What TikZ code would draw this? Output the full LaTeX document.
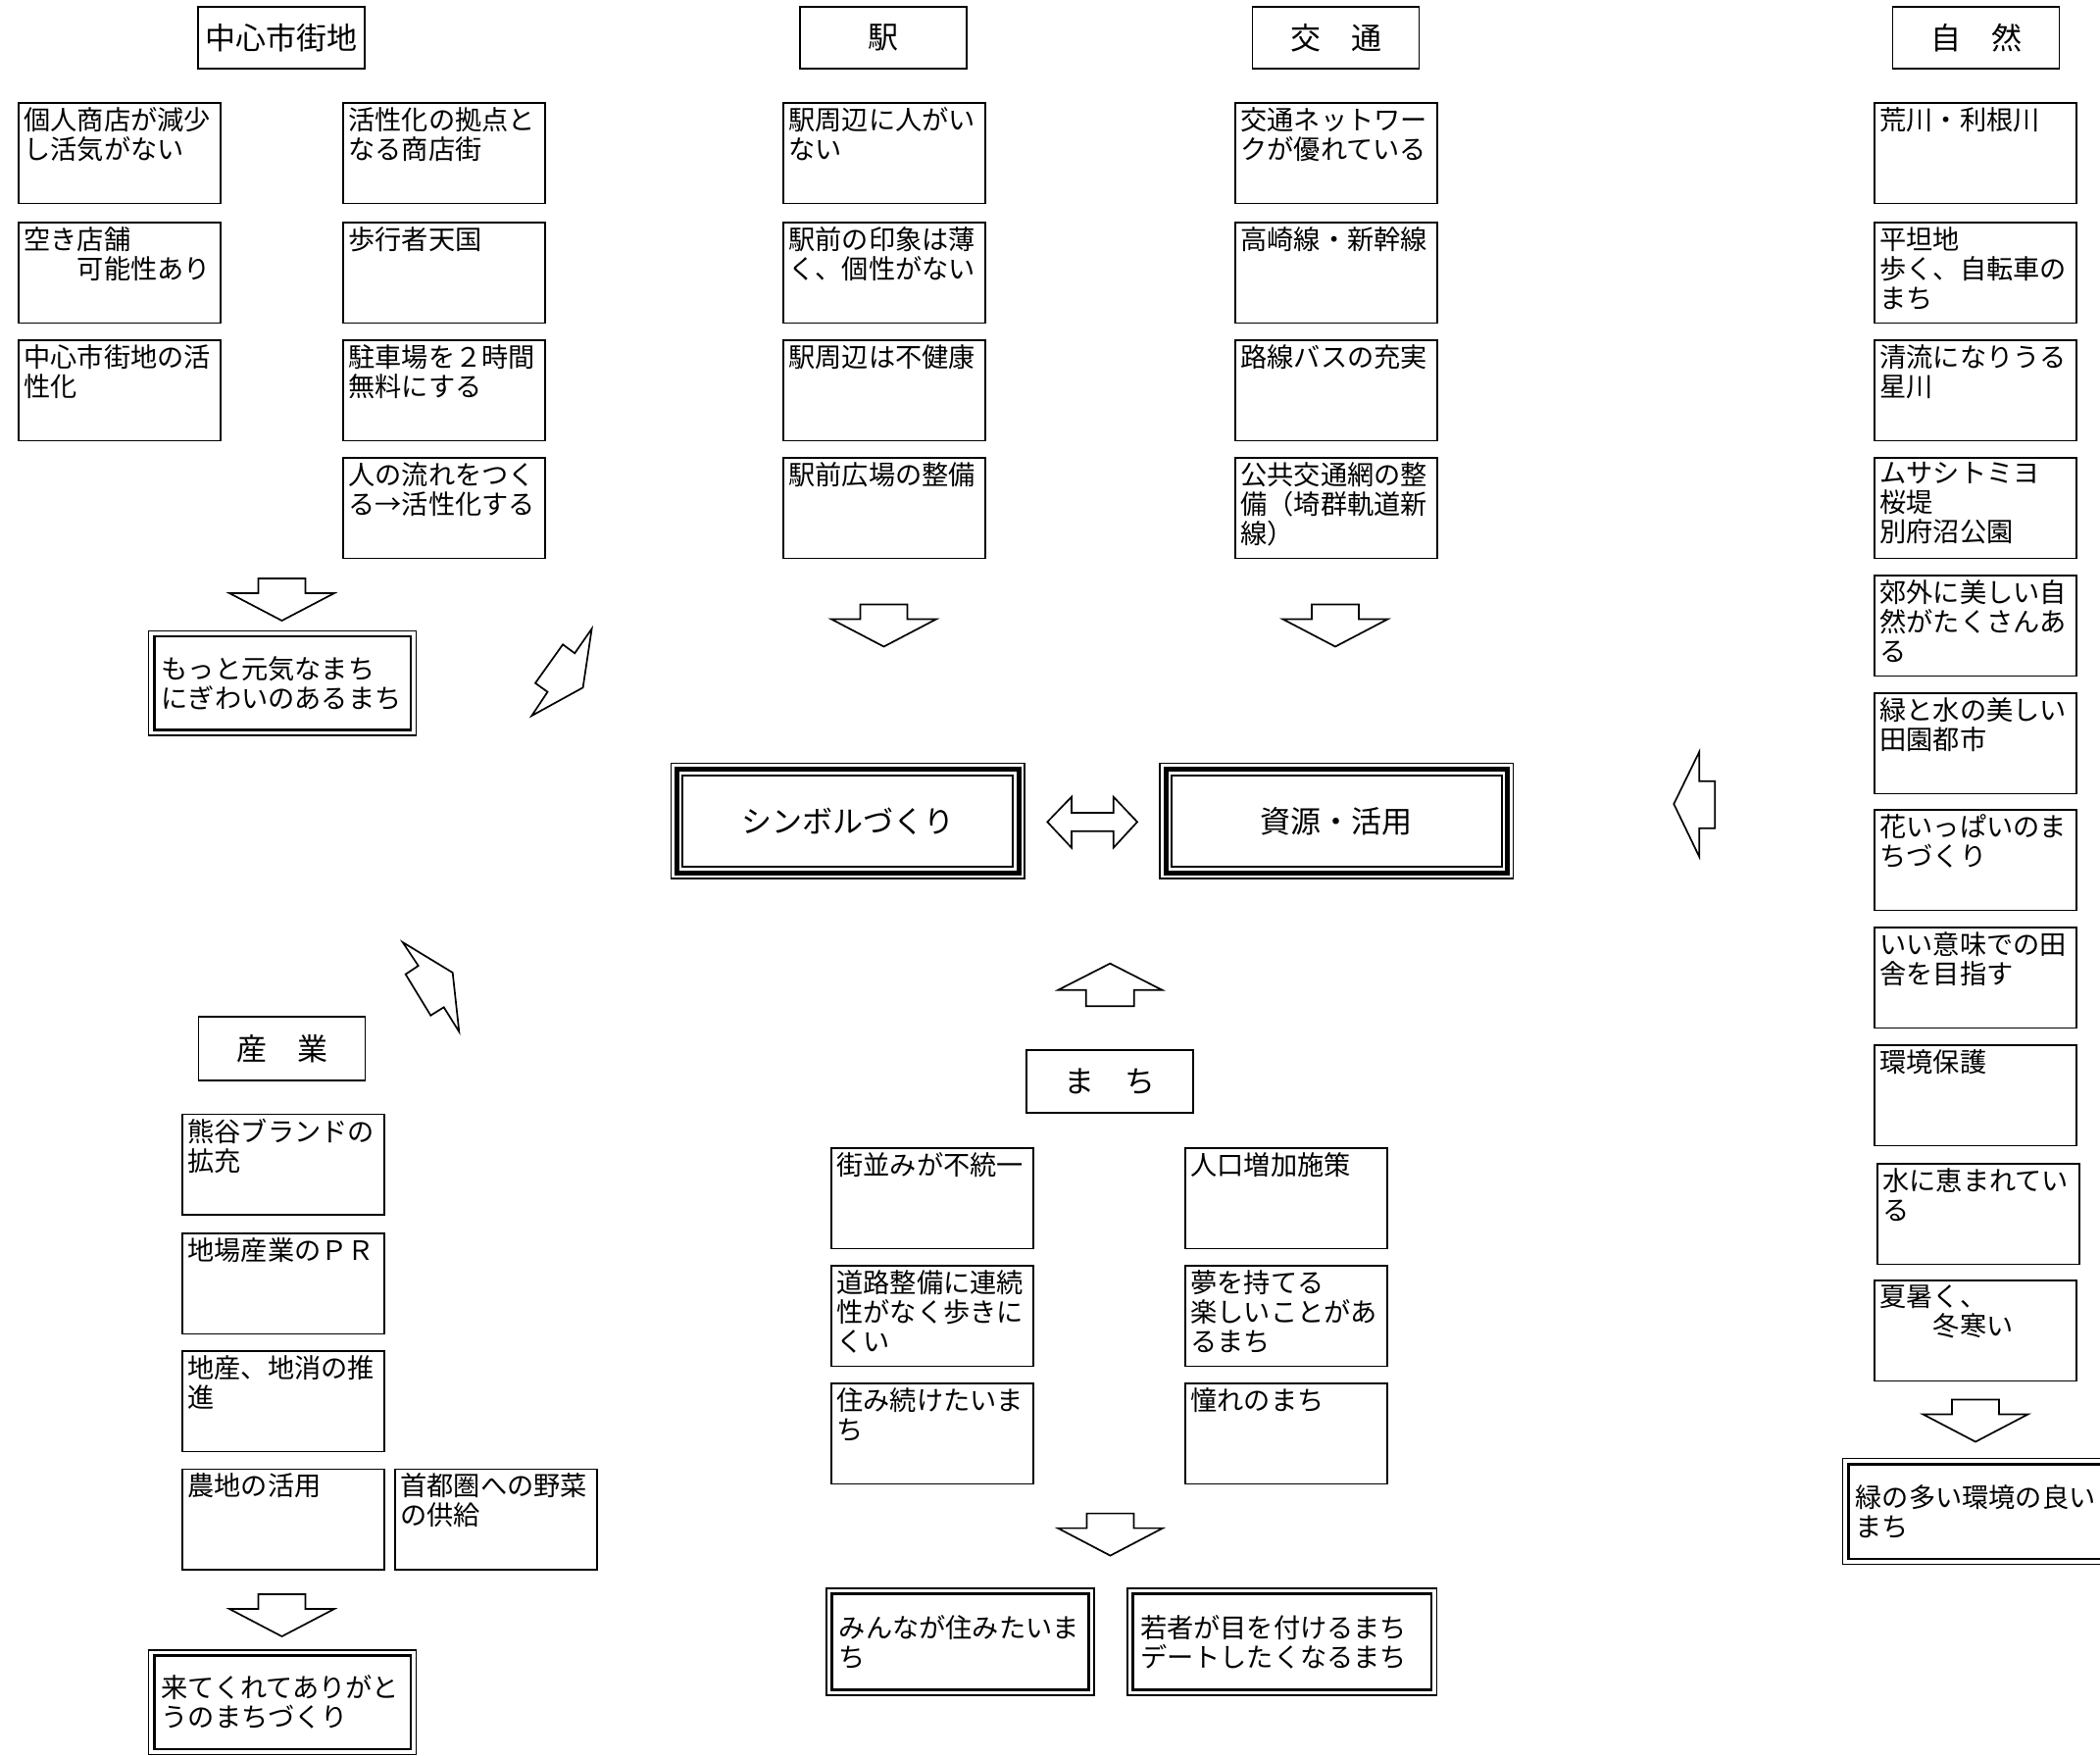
\documentclass[tikz,border=0pt]{standalone}
\usepackage{fontspec}
\setmainfont{Noto Sans CJK JP}
\newcommand\jbody{\fontsize{27.2pt}{30pt}\selectfont}
\newcommand\jhead{\fontsize{31pt}{36pt}\selectfont}
\newcommand\sbx[4]{\node[bx] (#1) at (#2,#3) {\parbox[c][88pt][t]{195pt}{\vspace{-3pt}#4}};}
\begin{document}
\begin{tikzpicture}[x=1pt,y=-1pt,
  bx/.style={draw, line width=1.7pt, inner xsep=5.5pt, inner ysep=7.25pt, outer sep=0pt, anchor=north west, font=\jbody},
  hd/.style={draw, line width=1.7pt, minimum width=170pt, minimum height=63pt, inner sep=0pt, outer sep=0pt, font=\jhead},
  dbx/.style={draw, line width=1.5pt, inner xsep=13pt, inner ysep=0pt, outer sep=0pt, anchor=north west, align=left, font=\jbody},
  tbx/.style={draw, line width=1.5pt, minimum width=360.6pt, minimum height=117.4pt, outer sep=0pt, anchor=north west, font=\jhead},
  blk/.style={draw, line width=1.7pt, fill=white, line join=miter},
  downarr/.pic={\draw[blk] (-24,0) -- (24,0) -- (24,15) -- (53.5,15) -- (0,43) -- (-53.5,15) -- (-24,15) -- cycle;},
  uparr/.pic={\draw[blk] (0,0) -- (53,27) -- (24.5,27) -- (24.5,43.6) -- (-24.5,43.6) -- (-24.5,27) -- (-53,27) -- cycle;}
]
\useasboundingbox (0,0) rectangle (2142,1791);
\fill[white] (0,0) rectangle (2142,1791);
\clip (0,0) rectangle (2142,1791);

% headers
\node[hd] (h1) at (287,38.5) {中心市街地};
\node[hd] (h2) at (901,38.5) {駅};
\node[hd] (h3) at (1362.6,38.5) {交　通};
\node[hd] (h4) at (2015.6,38.5) {自　然};
\node[hd, minimum height=64pt] (h5) at (1131.7,1103) {ま　ち};
\node[hd, minimum height=65pt] (h6) at (287.5,1069.6) {産　業};

% 中心市街地
\sbx{A1}{19}{105}{個人商店が減少\\し活気がない}
\sbx{A2}{19}{227}{空き店舗\\　　可能性あり}
\sbx{A3}{19}{347}{中心市街地の活\\性化}
\sbx{B1}{350}{105}{活性化の拠点と\\なる商店街}
\sbx{B2}{350}{227}{歩行者天国}
\sbx{B3}{350}{347}{駐車場を２時間\\無料にする}
\sbx{B4}{350}{467}{人の流れをつく\\る→活性化する}

% 駅
\sbx{E1}{799}{105}{駅周辺に人がい\\ない}
\sbx{E2}{799}{227}{駅前の印象は薄\\く、個性がない}
\sbx{E3}{799}{347}{駅周辺は不健康}
\sbx{E4}{799}{467}{駅前広場の整備}

% 交通
\sbx{K1}{1260}{105}{交通ネットワー\\クが優れている}
\sbx{K2}{1260}{227}{高崎線・新幹線}
\sbx{K3}{1260}{347}{路線バスの充実}
\sbx{K4}{1260}{467}{公共交通網の整\\備（埼群軌道新\\線）}

% 自然
\sbx{N1}{1912}{105}{荒川・利根川}
\sbx{N2}{1912}{227}{平坦地\\歩く、自転車の\\まち}
\sbx{N3}{1912}{347}{清流になりうる\\星川}
\sbx{N4}{1912}{467}{ムサシトミヨ\\桜堤\\別府沼公園}
\sbx{N5}{1912}{587}{郊外に美しい自\\然がたくさんあ\\る}
\sbx{N6}{1912}{707}{緑と水の美しい\\田園都市}
\sbx{N7}{1912}{826}{花いっぱいのま\\ちづくり}
\sbx{N8}{1912}{946}{いい意味での田\\舎を目指す}
\sbx{N9}{1912}{1066}{環境保護}
\sbx{N10}{1915}{1187}{水に恵まれてい\\る}
\sbx{N11}{1912}{1306}{夏暑く、\\　　冬寒い}

% まち
\sbx{M1}{848}{1171}{街並みが不統一}
\sbx{M2}{848}{1291}{道路整備に連続\\性がなく歩きに\\くい}
\sbx{M3}{848}{1411}{住み続けたいま\\ち}
\sbx{M4}{1209}{1171}{人口増加施策}
\sbx{M5}{1209}{1291}{夢を持てる\\楽しいことがあ\\るまち}
\sbx{M6}{1209}{1411}{憧れのまち}

% 産業
\sbx{S1}{186}{1136.5}{熊谷ブランドの\\拡充}
\sbx{S2}{186}{1258}{地場産業のＰＲ}
\sbx{S3}{186}{1378}{地産、地消の推\\進}
\sbx{S4}{186}{1498.5}{農地の活用}
\sbx{S5}{403}{1498.5}{首都圏への野菜\\の供給}

% double boxes
\node[dbx, minimum width=273pt, minimum height=106.6pt, text width=247pt] (d1) at (151.6,643.4) {もっと元気なまち\\にぎわいのあるまち};
\node[dbx, minimum width=273pt, minimum height=106.6pt, text width=247pt] (d2) at (151.6,1683) {来てくれてありがと\\うのまちづくり};
\node[dbx, minimum width=273pt, minimum height=109pt, text width=247pt] (d3) at (842.8,1620) {みんなが住みたいま\\ち};
\node[dbx, minimum width=315.7pt, minimum height=109pt, text width=289.7pt] (d4) at (1150,1620) {若者が目を付けるまち\\デートしたくなるまち};
\node[dbx, minimum width=273pt, minimum height=108pt, text width=247pt] (d5) at (1879.6,1487.6) {緑の多い環境の良い\\まち};
\foreach \n in {d1,d2,d3,d4,d5}
  \draw[line width=2.6pt] ([xshift=5.6pt,yshift=-5.6pt]\n.north west) rectangle ([xshift=-5.6pt,yshift=5.6pt]\n.south east);

% triple boxes
\node[tbx] (t1) at (684.4,778.6) {シンボルづくり};
\node[tbx] (t2) at (1183,778.6) {資源・活用};
\foreach \n in {t1,t2} {
  \draw[line width=5pt] ([xshift=6pt,yshift=-6pt]\n.north west) rectangle ([xshift=-6pt,yshift=6pt]\n.south east);
  \draw[line width=2pt] ([xshift=12pt,yshift=-12pt]\n.north west) rectangle ([xshift=-12pt,yshift=12pt]\n.south east);
}

% block arrows
\pic at (287.5,590) {downarr};
\pic at (901.5,616.5) {downarr};
\pic at (1362,616.5) {downarr};
\pic at (2015,1427.5) {downarr};
\pic at (1132.5,1543.6) {downarr};
\pic at (287.5,1626) {downarr};
\pic at (1132.3,982.7) {uparr};
% left arrow
\draw[blk] (1707.3,820) -- (1733.3,766.7) -- (1733.3,796.7) -- (1749.3,796.7) -- (1749.3,844.7) -- (1733.3,844.7) -- (1733.3,874) -- cycle;
% double arrow
\draw[blk] (1068.3,838.3) -- (1093,812.7) -- (1093,829) -- (1135.7,829) -- (1135.7,812.7) -- (1160,838.3) -- (1135.7,864.7) -- (1135.7,847.7) -- (1093,847.7) -- (1093,864.7) -- cycle;
% diagonal arrows
\draw[blk] (603.6,641.3) -- (594.6,701.3) -- (542.4,730) -- (558.5,705.7) -- (546,696.7) -- (574.1,657.3) -- (586.2,666.3) -- cycle;
\draw[blk] (410.7,961) -- (461.7,992) -- (468.3,1052.3) -- (452.7,1027.3) -- (439.3,1035.7) -- (413.7,993.7) -- (426.7,985) -- cycle;
\end{tikzpicture}
\end{document}
